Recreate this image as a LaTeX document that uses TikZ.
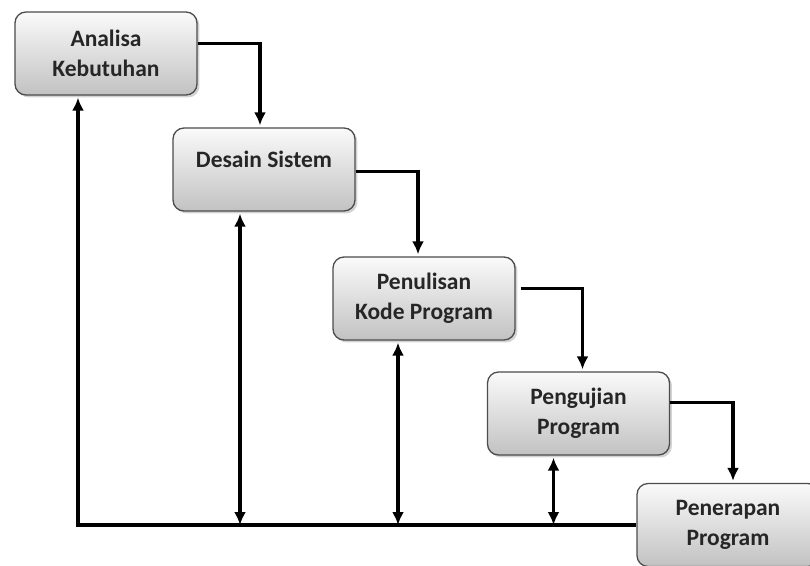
\documentclass[tikz,border=0pt]{standalone}
\usepackage{fontspec}
\setmainfont{Carlito}
\usetikzlibrary{arrows.meta,shadows}

\begin{document}
\begin{tikzpicture}[
    x=1pt, y=-1pt,
    tahap/.style={rectangle, rounded corners=11pt, draw=black!70, line width=1.3pt,
      top color=gray!4, bottom color=gray!48, drop shadow={opacity=0.35},
      minimum width=182pt, minimum height=83pt, align=center,
      font=\fontsize{23.5}{30}\selectfont\bfseries, text=black!85},
    alur/.style={draw=black, line width=3.4pt},
    panah/.style={-{Latex[length=13pt,width=12pt]}, shorten >=2pt},
    dua/.style={{Latex[length=13pt,width=12pt]}-{Latex[length=13pt,width=12pt]}, shorten <=2pt}]

    \useasboundingbox (0,0) rectangle (810,565);

    \node[tahap] (ana) at (106,53.5) {Analisa\\Kebutuhan};
    \node[tahap] (des) at (264,169.5) {\raisebox{20pt}{Desain Sistem}};
    \node[tahap] (pen) at (424,298.5) {Penulisan\\Kode Program};
    \node[tahap] (uji) at (578.5,413.5) {Pengujian\\Program};
    \node[tahap] (ter) at (728,525) {Penerapan\\Program};

    \draw[alur, panah] ([yshift=10pt]ana.east) -| ([xshift=-4pt]des.north);
    \draw[alur, panah] ([yshift=-2pt]des.east) -| ([xshift=-6pt]pen.north);
    \draw[alur, panah] ([xshift=5pt,yshift=10pt]pen.east) -| ([xshift=4pt]uji.north);
    \draw[alur, panah] ([yshift=11pt]uji.east) -| ([xshift=5pt]ter.north);

    \draw[alur, panah] (ter.west) -| ([xshift=-28pt]ana.south);
    \draw[alur, dua] ([xshift=-24pt]des.south) -- ([xshift=-24pt]des.south |- ter.west);
    \draw[alur, dua] ([xshift=-26pt]pen.south) -- ([xshift=-26pt]pen.south |- ter.west);
    \draw[alur, dua] ([xshift=-25pt]uji.south) -- ([xshift=-25pt]uji.south |- ter.west);
  \end{tikzpicture}
\end{document}
